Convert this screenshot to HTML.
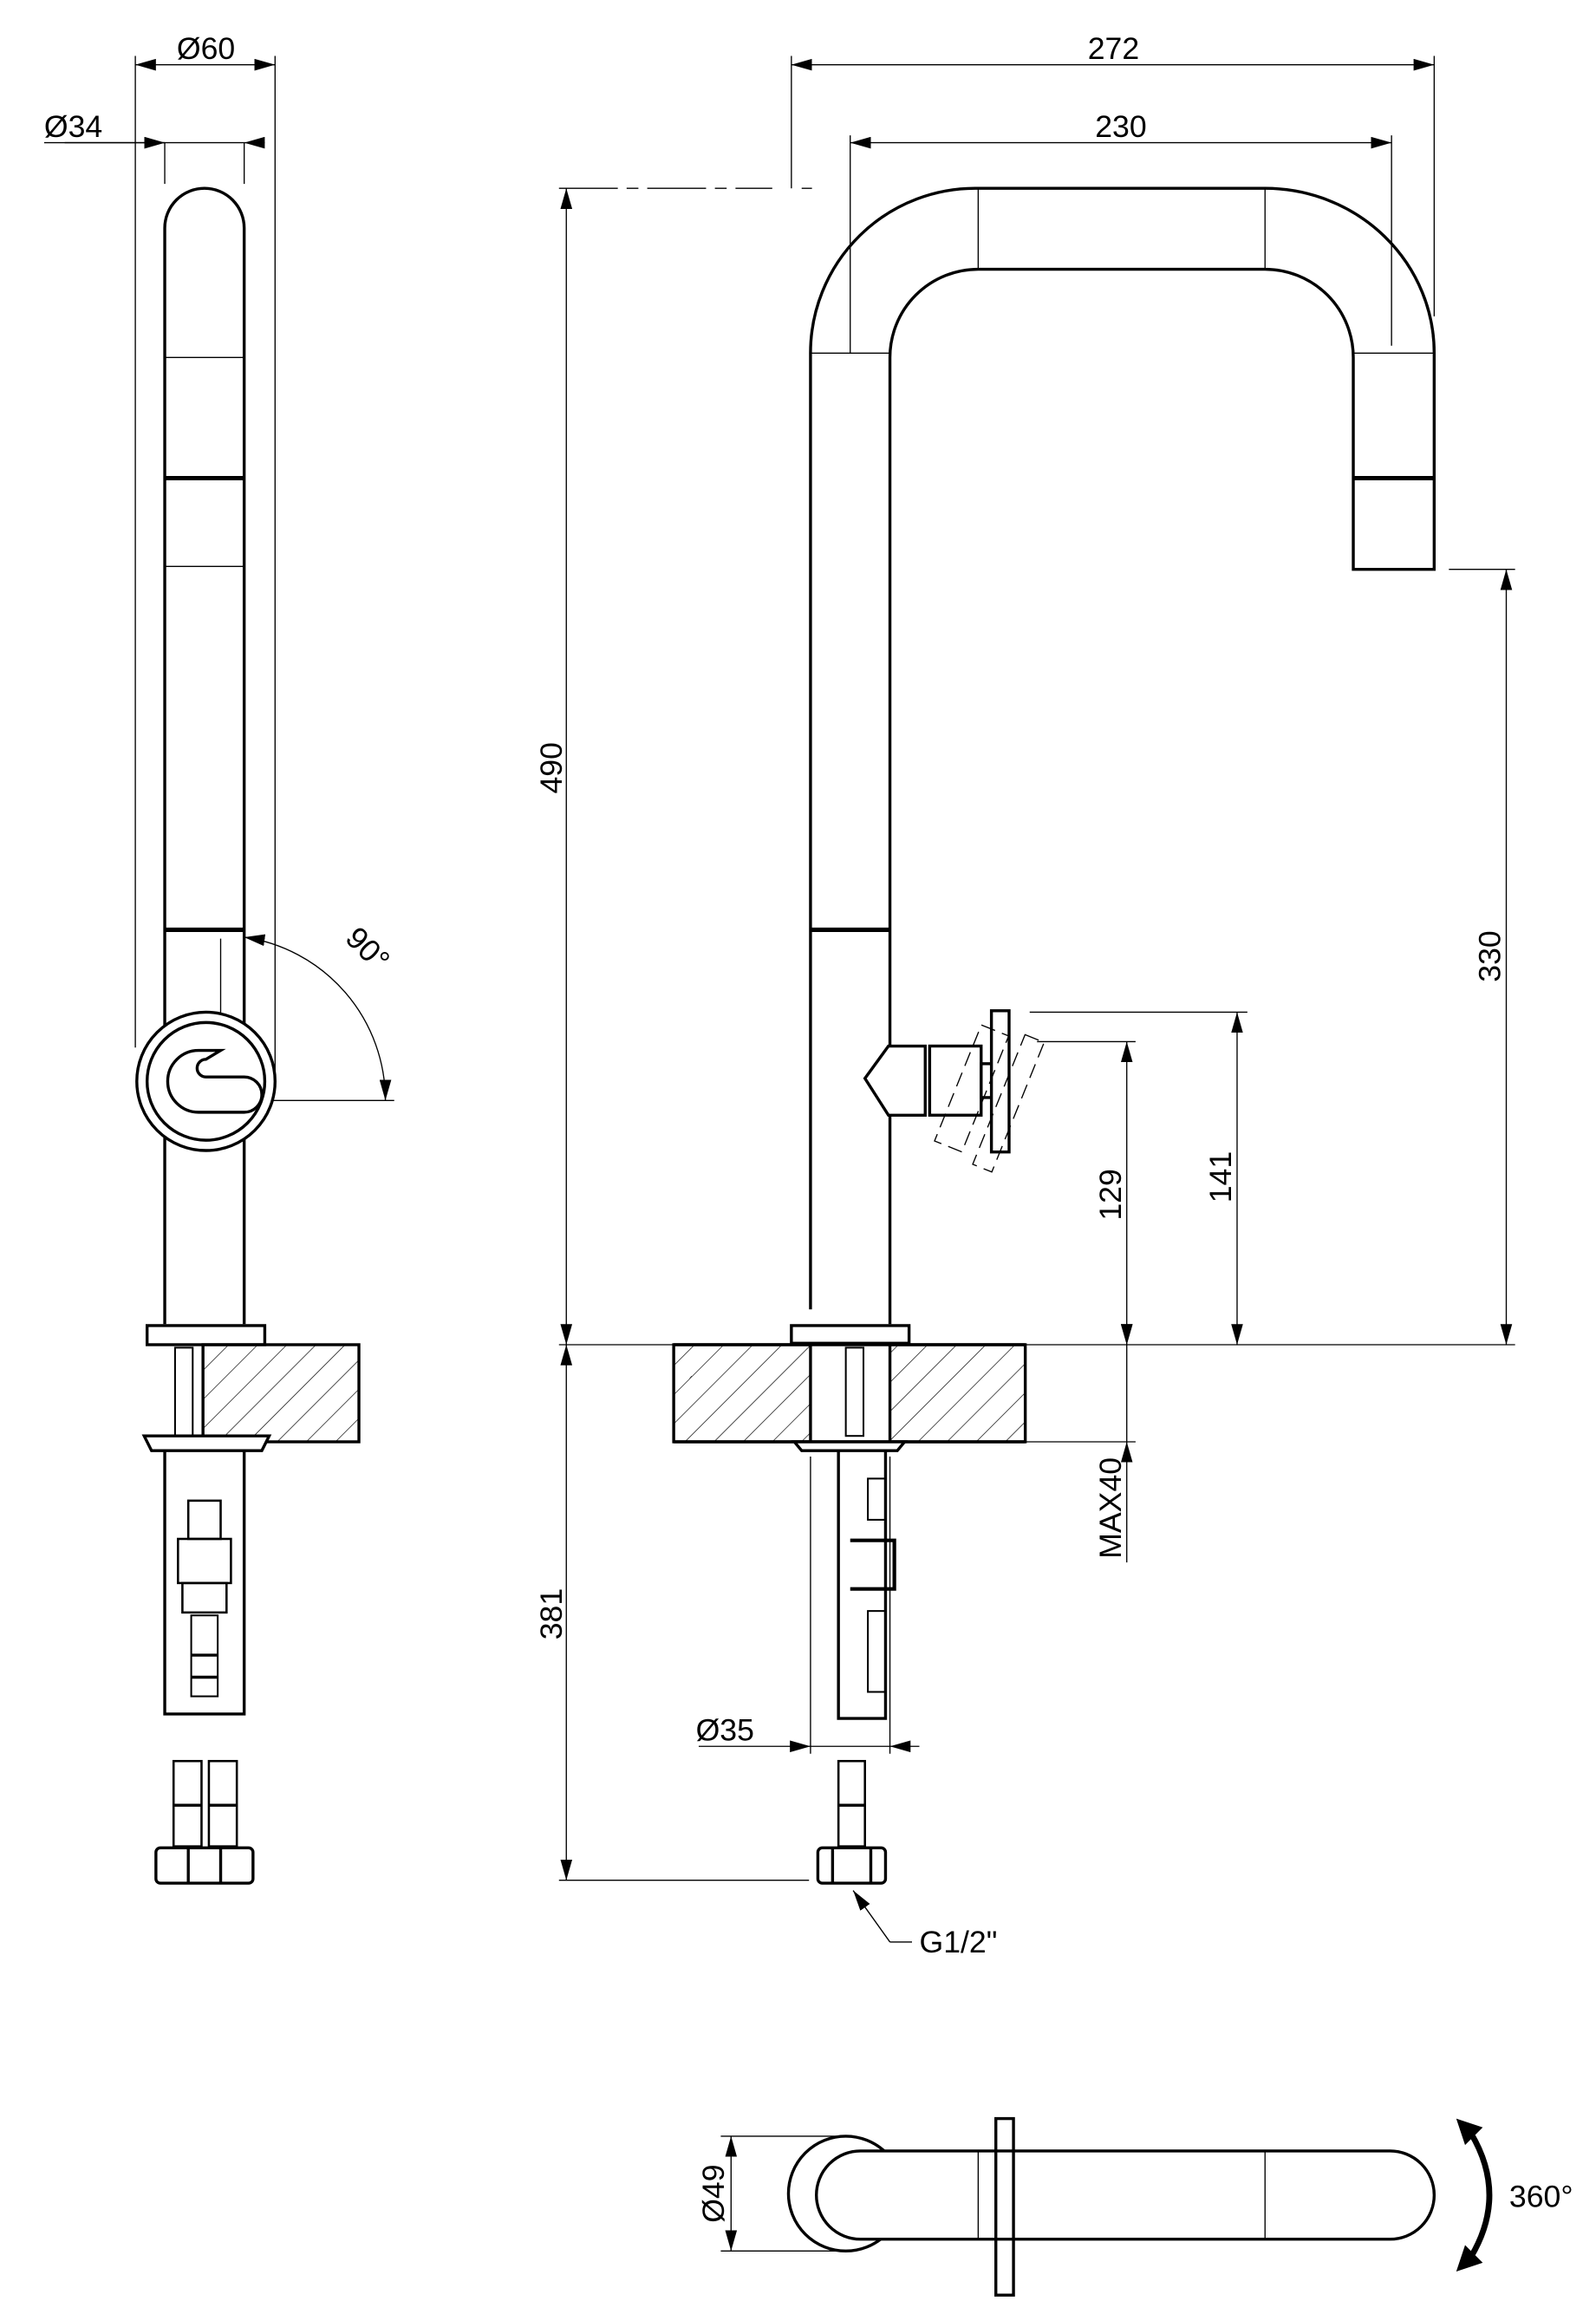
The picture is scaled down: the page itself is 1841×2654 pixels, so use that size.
<!DOCTYPE html>
<html><head><meta charset="utf-8"><style>html,body{margin:0;padding:0;background:#fff}svg{display:block}</style></head><body>
<svg width="1841" height="2654" viewBox="0 0 1085 1564" preserveAspectRatio="none" xmlns="http://www.w3.org/2000/svg" font-family="Liberation Sans, sans-serif">
<defs>
<pattern id="h" patternUnits="userSpaceOnUse" width="14" height="14" patternTransform="rotate(45)"><line x1="0" y1="0" x2="0" y2="14" stroke="#000" stroke-width="0.8"/></pattern>
<marker id="a" markerWidth="14" markerHeight="8" refX="14" refY="4" orient="auto" markerUnits="userSpaceOnUse"><path d="M0,0 L14,4 L0,8Z" fill="#000"/></marker>
<marker id="b" markerWidth="14" markerHeight="8" refX="0" refY="4" orient="auto" markerUnits="userSpaceOnUse"><path d="M14,0 L0,4 L14,8Z" fill="#000"/></marker>
</defs>
<g fill="none" stroke="#000">
<!-- LEFT VIEW -->
<g stroke-width="0.8">
<line x1="92" y1="38" x2="92" y2="712"/><line x1="187" y1="38" x2="187" y2="730"/>
<line x1="92" y1="44" x2="187" y2="44" marker-start="url(#b)" marker-end="url(#a)"/>
<line x1="30" y1="97" x2="98" y2="97" marker-end="url(#a)" transform="translate(14,0)"/>
<line x1="112" y1="97" x2="166" y2="97"/>
<line x1="166" y1="97" x2="180" y2="97" marker-start="url(#b)"/>
<line x1="30" y1="97" x2="112" y2="97" marker-end="url(#a)"/>
<line x1="112" y1="97" x2="112" y2="125"/><line x1="166" y1="97" x2="166" y2="125"/>
<line x1="150" y1="638" x2="150" y2="748"/><line x1="150" y1="748" x2="268" y2="748"/>
<path d="M166,637 A112,112 0 0 1 262,748" marker-start="url(#b)" marker-end="url(#a)"/>
<line x1="112" y1="243" x2="166" y2="243"/><line x1="112" y1="385" x2="166" y2="385"/>
</g>
<g stroke-width="2">
<path d="M112,900 L112,155 A27,27 0 0 1 166,155 L166,900"/>
<line x1="112" y1="325" x2="166" y2="325" stroke-width="3"/>
<line x1="112" y1="632" x2="166" y2="632" stroke-width="3"/>
<circle cx="140" cy="735" r="47" fill="#fff"/><circle cx="140" cy="735" r="40"/>
<path d="M150,714 L135,714 A21,21 0 0 0 135,756 L166,756 A12,12 0 0 0 166,732 L140,732 A6,6 0 0 1 140,720 Z" fill="#fff"/>
<rect x="100" y="901" width="80" height="13" fill="#fff"/>
<rect x="138" y="914" width="106" height="66" fill="url(#h)"/>
<path d="M98,976 L183,976 L178,986 L103,986 Z" fill="#fff"/>
<path d="M112,986 L112,1165 L166,1165 L166,986"/>
<rect x="119" y="916" width="12" height="60" stroke-width="1.2"/>
<rect x="128" y="1020" width="22" height="26" stroke-width="1.5"/>
<rect x="121" y="1046" width="36" height="30" stroke-width="1.5"/>
<rect x="124" y="1076" width="30" height="20" stroke-width="1.5"/>
<rect x="130" y="1098" width="18" height="55" stroke-width="1.2"/>
<line x1="130" y1="1125" x2="148" y2="1125"/><line x1="130" y1="1140" x2="148" y2="1140"/>
<rect x="118" y="1197" width="19" height="58" stroke-width="1.5"/><rect x="142" y="1197" width="19" height="58" stroke-width="1.5"/>
<line x1="118" y1="1227" x2="137" y2="1227"/><line x1="142" y1="1227" x2="161" y2="1227"/>
<rect x="106" y="1256" width="66" height="24" rx="3" fill="#fff"/>
<line x1="128" y1="1256" x2="128" y2="1280"/><line x1="150" y1="1256" x2="150" y2="1280"/>
</g>
<!-- MAIN VIEW -->
<g stroke-width="0.8">
<line x1="538" y1="38" x2="538" y2="128"/><line x1="975" y1="38" x2="975" y2="215"/>
<line x1="538" y1="44" x2="975" y2="44" marker-start="url(#b)" marker-end="url(#a)"/>
<line x1="578" y1="92" x2="578" y2="240"/><line x1="946" y1="92" x2="946" y2="235"/>
<line x1="578" y1="97" x2="946" y2="97" marker-start="url(#b)" marker-end="url(#a)"/>
<line x1="380" y1="128" x2="525" y2="128" stroke-dasharray="40,6,8,6"/><line x1="545" y1="128" x2="552" y2="128"/>
<line x1="380" y1="914" x2="1030" y2="914"/>
<line x1="385" y1="128" x2="385" y2="914" marker-start="url(#b)" marker-end="url(#a)"/>
<line x1="385" y1="914" x2="385" y2="1278" marker-start="url(#b)" marker-end="url(#a)"/>
<line x1="380" y1="1278" x2="550" y2="1278"/>
<line x1="985" y1="387" x2="1030" y2="387"/>
<line x1="1024" y1="387" x2="1024" y2="914" marker-start="url(#b)" marker-end="url(#a)"/>
<line x1="700" y1="688" x2="848" y2="688"/>
<line x1="841" y1="688" x2="841" y2="914" marker-start="url(#b)" marker-end="url(#a)"/>
<line x1="705" y1="708" x2="772" y2="708"/>
<line x1="766" y1="708" x2="766" y2="914" marker-start="url(#b)" marker-end="url(#a)"/>
<line x1="697" y1="980" x2="772" y2="980"/>
<line x1="766" y1="914" x2="766" y2="980" marker-start="url(#a)" marker-end="url(#b)"/>
<line x1="766" y1="980" x2="766" y2="1062"/>
<line x1="551" y1="990" x2="551" y2="1192"/><line x1="605" y1="990" x2="605" y2="1192"/>
<line x1="475" y1="1187" x2="551" y2="1187" marker-end="url(#a)"/>
<line x1="551" y1="1187" x2="605" y2="1187"/>
<line x1="625" y1="1187" x2="605" y2="1187" marker-end="url(#a)"/>
<line x1="620" y1="1320" x2="605" y2="1320"/>
<line x1="605" y1="1320" x2="580" y2="1285" marker-end="url(#a)"/>
<line x1="665" y1="128" x2="665" y2="183"/><line x1="860" y1="128" x2="860" y2="183"/>
<line x1="551" y1="240" x2="605" y2="240"/><line x1="920" y1="240" x2="975" y2="240"/>
</g>
<g stroke-width="2">
<path d="M551,890 L551,240 A112,112 0 0 1 665,128 L860,128 A115,112 0 0 1 975,240 L975,387 L920,387 L920,243 A60,60 0 0 0 860,183 L665,183 A60,60 0 0 0 605,243 L605,900"/>
<line x1="920" y1="325" x2="975" y2="325" stroke-width="3"/>
<line x1="551" y1="632" x2="605" y2="632" stroke-width="3"/>
<path d="M604,711 L588,733 L604,758 L629,758 L629,711 Z" fill="#fff"/>
<rect x="632" y="711" width="35" height="47" fill="#fff"/>
<rect x="667" y="723" width="9" height="23"/>
<rect x="674" y="687" width="12" height="96" fill="#fff"/>
<rect x="538" y="901" width="80" height="12" fill="#fff"/>
<rect x="458" y="914" width="93" height="66" fill="url(#h)"/>
<rect x="605" y="914" width="92" height="66" fill="url(#h)"/>
<line x1="458" y1="914" x2="697" y2="914"/><line x1="458" y1="980" x2="697" y2="980"/>
<path d="M540,980 L615,980 L610,986 L545,986 Z" fill="#fff"/>
<path d="M570,986 L570,1168 L602,1168 L602,986"/>
<rect x="575" y="916" width="12" height="60" stroke-width="1.2"/>
<rect x="590" y="1005" width="12" height="28" stroke-width="1.2"/>
<path d="M578,1047 L608,1047 L608,1080 L578,1080" stroke-width="2.5"/>
<rect x="590" y="1095" width="12" height="55" stroke-width="1.2"/>
<rect x="570" y="1197" width="18" height="58" stroke-width="1.5"/>
<line x1="570" y1="1227" x2="588" y2="1227"/>
<rect x="556" y="1256" width="46" height="24" rx="3" fill="#fff"/>
<line x1="566" y1="1256" x2="566" y2="1280"/><line x1="592" y1="1256" x2="592" y2="1280"/>
</g>
<g stroke-width="0.8" stroke-dasharray="10,5" transform="rotate(22 680 745)">
<rect x="650" y="705" width="20" height="85"/><rect x="680" y="700" width="14" height="95"/>
</g>
<!-- TOP VIEW -->
<g stroke-width="0.8">
<line x1="490" y1="1452" x2="575" y2="1452"/><line x1="490" y1="1530" x2="575" y2="1530"/>
<line x1="497" y1="1452" x2="497" y2="1530" marker-start="url(#b)" marker-end="url(#a)"/>
<line x1="665" y1="1462" x2="665" y2="1522"/><line x1="860" y1="1462" x2="860" y2="1522"/>
</g>
<g stroke-width="2">
<circle cx="575" cy="1491" r="39"/>
<rect x="555" y="1462" width="420" height="60" rx="30" fill="#fff"/>
<rect x="677" y="1440" width="12" height="120" fill="#fff"/>
<line x1="677" y1="1462" x2="689" y2="1462"/><line x1="677" y1="1522" x2="689" y2="1522"/>
<path d="M1000,1450 Q1025,1492 1000,1534" stroke-width="4"/>
</g>
<path d="M990,1440 L1008,1446 L996,1458Z M990,1544 L1008,1538 L996,1526Z" fill="#000" stroke="none"/>
<line x1="665" y1="1462" x2="665" y2="1522" stroke-width="0.8"/><line x1="860" y1="1462" x2="860" y2="1522" stroke-width="0.8"/>
</g>
<g font-size="21" fill="#000">
<text x="140" y="40" text-anchor="middle">Ø60</text>
<text x="30" y="93">Ø34</text>
<text x="757" y="40" text-anchor="middle">272</text>
<text x="762" y="93" text-anchor="middle">230</text>
<text transform="translate(382,522) rotate(-90)" text-anchor="middle">490</text>
<text transform="translate(382,1097) rotate(-90)" text-anchor="middle">381</text>
<text transform="translate(1020,650) rotate(-90)" text-anchor="middle">330</text>
<text transform="translate(837,800) rotate(-90)" text-anchor="middle">141</text>
<text transform="translate(762,812) rotate(-90)" text-anchor="middle">129</text>
<text transform="translate(762,1025) rotate(-90)" text-anchor="middle">MAX40</text>
<text transform="translate(245,650) rotate(45)" text-anchor="middle">90°</text>
<text x="473" y="1183">Ø35</text>
<text x="625" y="1327">G1/2"</text>
<text transform="translate(492,1491) rotate(-90)" text-anchor="middle">Ø49</text>
<text x="1026" y="1500">360°</text>
</g>
</svg>
</body></html>
